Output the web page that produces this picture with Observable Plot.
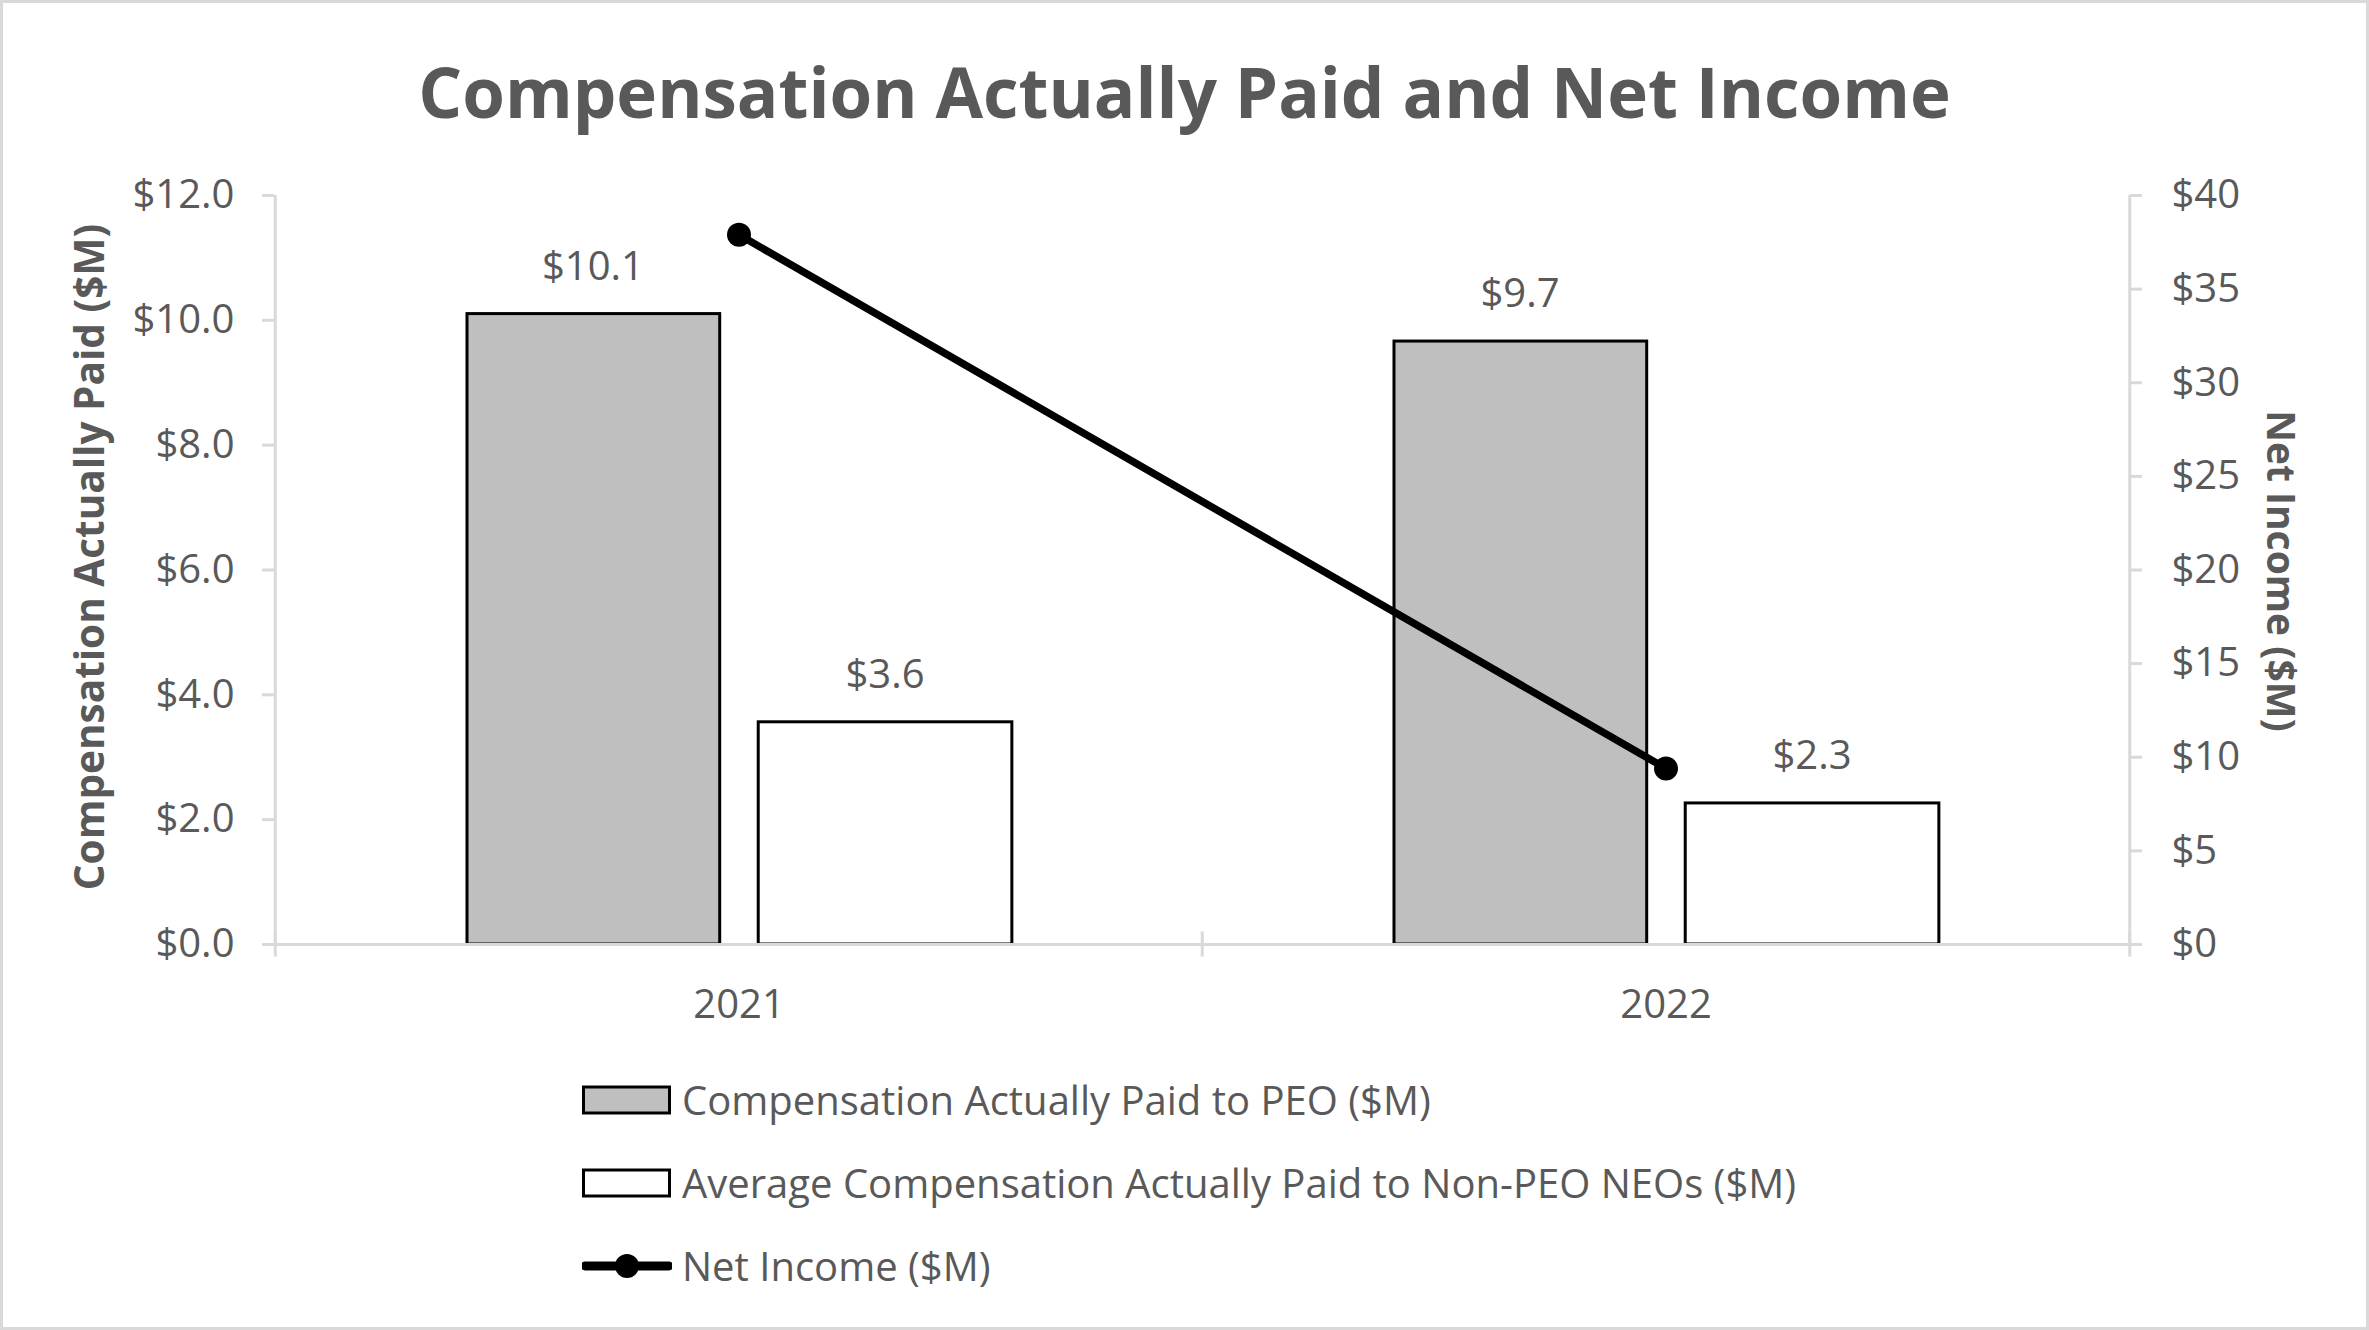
<!DOCTYPE html>
<html>
<head>
<meta charset="utf-8">
<script src="https://cdn.jsdelivr.net/npm/d3@7"></script>
<script src="https://cdn.jsdelivr.net/npm/@observablehq/plot@0.6"></script>
<style>
  html, body { margin: 0; padding: 0; background: #fff; }
  #wrap { position: relative; width: 2369px; height: 1330px; overflow: hidden; background: #fff; font-family: "Open Sans", sans-serif; color: #595959; }
  #border { position: absolute; left: 0; top: 0; width: 2369px; height: 1330px; box-sizing: border-box; border: 3px solid #d9d9d9; pointer-events: none; }
  #title { height: 150px; line-height: 182px; text-align: center; font-weight: 700; font-size: 69px; color: #595959; white-space: nowrap; }
  #legend { position: relative; padding-top: 8px; }
  .row { height: 83px; display: flex; align-items: center; padding-left: 582px; font-size: 40px; color: #595959; }
  .row svg { margin-right: 10px; }
</style>
</head>
<body>
<div id="wrap">
  <div id="title">Compensation Actually Paid and Net Income</div>
  <div id="chart"></div>
  <div id="legend"></div>
  <div id="border"></div>
</div>
<script>
const years = ["2021", "2022"];
const peoCap = [10.1, 9.66];
const neoCap = [3.56, 2.26];
const netIncome = [37.9, 9.4];
const leftTicks = [0, 2, 4, 6, 8, 10, 12];
const rightTicks = [0, 5, 10, 15, 20, 25, 30, 35, 40];
const seriesNames = [
  "Compensation Actually Paid to PEO ($M)",
  "Average Compensation Actually Paid to Non-PEO NEOs ($M)",
  "Net Income ($M)"
];
const leftLabel = "Compensation Actually Paid ($M)";
const rightLabel = "Net Income ($M)";

const leftMax = 12, rightMax = 40;
const toLeft = v => v * leftMax / rightMax;

const data = years.map((y, i) => ({year: y, peo: peoCap[i], neo: neoCap[i], ni: netIncome[i]}));

const W = 2369, H = 900;
const ml = 274, mr = 240, mt = 45, mb = 106;
const bw = (W - ml - mr) / years.length;
const gray = "#595959", axisGray = "#d9d9d9";

const chart = Plot.plot({
  width: W,
  height: H,
  marginLeft: ml,
  marginRight: mr,
  marginTop: mt,
  marginBottom: mb,
  style: {fontFamily: "Open Sans, sans-serif", fontSize: "40px", color: gray, background: "white", overflow: "visible"},
  x: {type: "band", domain: years, padding: 0},
  y: {domain: [0, leftMax]},
  marks: [
    Plot.barY(data, {x: "year", y: "peo", fill: "#bfbfbf", stroke: "black", strokeWidth: 3, insetLeft: bw * 0.207, insetRight: bw * 0.52}),
    Plot.barY(data, {x: "year", y: "neo", fill: "white", stroke: "black", strokeWidth: 3, insetLeft: bw * 0.521, insetRight: bw * 0.205}),
    Plot.ruleY([0], {stroke: axisGray, strokeWidth: 3}),
    Plot.ruleX([years[0]], {y1: 0, y2: leftMax, dx: -bw / 2, stroke: axisGray, strokeWidth: 3}),
    Plot.ruleX([years[years.length - 1]], {y1: 0, y2: leftMax, dx: bw / 2, stroke: axisGray, strokeWidth: 3}),
    Plot.ruleX(years, {y1: -0.2, y2: 0.2, dx: -bw / 2, stroke: axisGray, strokeWidth: 3}),
    Plot.ruleX([years[years.length - 1]], {y1: -0.2, y2: 0.2, dx: bw / 2, stroke: axisGray, strokeWidth: 3}),
    Plot.axisY({ticks: leftTicks, tickFormat: d => "$" + d.toFixed(1), tickSize: 12, tickPadding: 28, stroke: axisGray, fill: gray, strokeWidth: 3, label: null, fontSize: 40}),
    Plot.axisY({anchor: "right", ticks: rightTicks.map(toLeft), tickFormat: d => "$" + Math.round(d * rightMax / leftMax), tickSize: 12, tickPadding: 30, stroke: axisGray, fill: gray, strokeWidth: 3, label: null, fontSize: 40}),
    Plot.axisX({tickSize: 0, tickPadding: 45, fill: gray, label: null, fontSize: 40}),
    Plot.text(data, {x: "year", y: "peo", text: d => "$" + d.peo.toFixed(1), dx: -146, dy: -47, fill: gray, fontSize: 40}),
    Plot.text(data, {x: "year", y: "neo", text: d => "$" + d.neo.toFixed(1), dx: 146, dy: -47, fill: gray, fontSize: 40}),
    Plot.line(data, {x: "year", y: d => toLeft(d.ni), stroke: "black", strokeWidth: 7.5}),
    Plot.dot(data, {x: "year", y: d => toLeft(d.ni), r: 12, fill: "black", stroke: "none"}),
    Plot.text([leftLabel], {text: d => d, frameAnchor: "left", textAnchor: "middle", rotate: -90, dx: -183, dy: -13, fill: gray, fontWeight: 700, fontSize: 40.5}),
    Plot.text([rightLabel], {text: d => d, frameAnchor: "right", textAnchor: "middle", rotate: 90, dx: 150, dy: 1, fill: gray, fontWeight: 700, fontSize: 39})
  ]
});
document.getElementById("chart").appendChild(chart);

// Legend
const legend = document.getElementById("legend");
const swatches = [
  `<svg width="90" height="32"><rect x="1.5" y="3" width="86" height="26" fill="#bfbfbf" stroke="black" stroke-width="3"/></svg>`,
  `<svg width="90" height="32"><rect x="1.5" y="3" width="86" height="26" fill="white" stroke="black" stroke-width="3"/></svg>`,
  `<svg width="90" height="32"><line x1="3" y1="16" x2="87" y2="16" stroke="black" stroke-width="9" stroke-linecap="round"/><circle cx="45" cy="16" r="12" fill="black"/></svg>`
];
seriesNames.forEach((name, i) => {
  const row = document.createElement("div");
  row.className = "row";
  row.innerHTML = swatches[i] + `<span>${name}</span>`;
  legend.appendChild(row);
});
</script>
</body>
</html>
